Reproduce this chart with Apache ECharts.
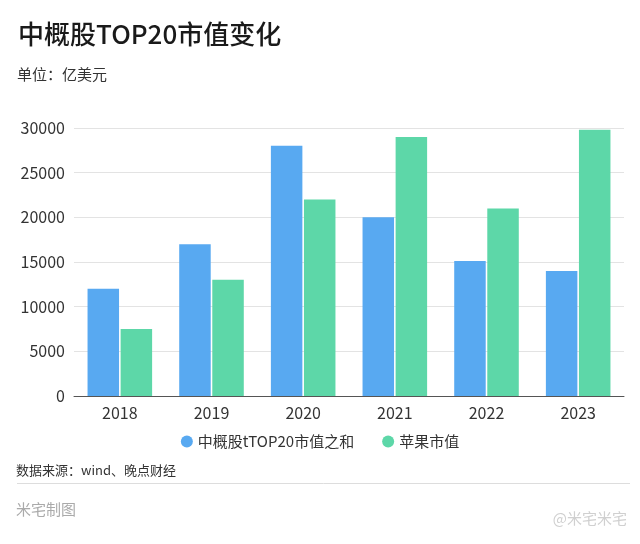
<!DOCTYPE html>
<html><head><meta charset="utf-8">
<script src="https://cdn.jsdelivr.net/npm/echarts@6/dist/echarts.min.js"></script>
<style>html,body{margin:0;padding:0;background:#fff}#c{width:640px;height:544px}</style>
</head><body><div id="c"></div>
<script>
const categories = ['2018','2019','2020','2021','2022','2023'];
const chinaTop20 = [12000,17000,28000,20000,15100,14000];
const apple = [7500,13000,22000,29000,21000,29800];
const seriesNames = ['中概股tTOP20市值之和','苹果市值'];
const yTicks = {min:0,max:30000,interval:5000};

const font = '"Noto Sans CJK SC","Noto Sans",sans-serif';
const chart = echarts.init(document.getElementById('c'));
chart.setOption({
  backgroundColor:'#fff',
  animation:false,
  textStyle:{fontFamily:font},
  title:{text:'中概股TOP20市值变化',left:13,top:16,textStyle:{fontSize:26,fontWeight:500,color:'#1a1a1a',fontFamily:font}},
  graphic:[
    {type:'text',left:17,top:67,style:{text:'单位：亿美元',fontSize:15,fill:'#333',fontFamily:font}},
    {type:'text',left:16,top:464,style:{text:'数据来源：wind、晚点财经',fontSize:13,fill:'#333',fontFamily:font}},
    {type:'line',shape:{x1:17,y1:483.5,x2:630,y2:483.5},style:{stroke:'#ddd',lineWidth:1}},
    {type:'text',left:16,top:502,style:{text:'米宅制图',fontSize:15,fill:'#aaa',fontFamily:font}},
    {type:'text',right:13,top:511,style:{text:'@米宅米宅',fontSize:15,fill:'#d0d0d0',fontFamily:font}}
  ],
  legend:{top:429,left:'center',itemWidth:12,itemHeight:12,itemGap:28,icon:'circle',
    textStyle:{fontSize:15,color:'#333',fontFamily:font},data:seriesNames},
  grid:{left:74,right:16,top:128,bottom:148},
  xAxis:{type:'category',data:categories,
    axisLine:{lineStyle:{color:'#555',width:1}},
    axisTick:{alignWithLabel:true,length:4,lineStyle:{color:'#555'}},
    axisLabel:{fontSize:16,color:'#333',margin:9}},
  yAxis:{type:'value',min:yTicks.min,max:yTicks.max,interval:yTicks.interval,
    axisLine:{show:false},axisTick:{show:false},
    axisLabel:{fontSize:16,color:'#333',margin:9,formatter:v=>String(v)},
    splitLine:{lineStyle:{color:'#e3e3e3',width:1}}},
  series:[
    {name:seriesNames[0],type:'bar',data:chinaTop20,barWidth:31.5,barGap:'5%',itemStyle:{color:'#58a9f1'}},
    {name:seriesNames[1],type:'bar',data:apple,barWidth:31.5,itemStyle:{color:'#5dd7a8'}}
  ]
});
</script></body></html>
